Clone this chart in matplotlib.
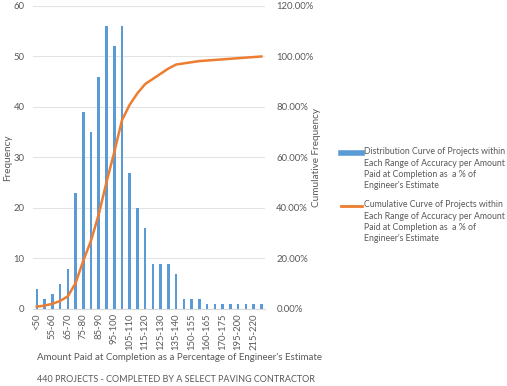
import matplotlib.pyplot as plt
from matplotlib.ticker import FuncFormatter
from matplotlib.lines import Line2D

plt.rcParams['font.family'] = ['Lato', 'DejaVu Sans']

# rangos de porcentaje (solo se ven uno de cada dos en el eje)
rangos = ['<50', '50-55', '55-60', '60-65', '65-70', '70-75', '75-80', '80-85',
          '85-90', '90-95', '95-100', '100-105', '105-110', '110-115', '115-120',
          '120-125', '125-130', '130-135', '135-140', '140-150', '150-155',
          '155-160', '160-165', '165-170', '170-175', '175-195', '195-200',
          '200-215', '215-220', '>220']

# numero de proyectos por rango
frecuencia = [4, 2, 3, 5, 8, 23, 39, 35, 46, 56, 52, 56, 27, 20, 16, 9, 9, 9, 7,
              2, 2, 2, 1, 1, 1, 1, 1, 1, 1, 1]

# frecuencia acumulada en %
acumulada = [0.91, 1.36, 2.05, 3.18, 5.00, 10.23, 19.09, 27.05, 37.50, 50.23,
             62.05, 74.77, 80.91, 85.45, 89.09, 91.14, 93.18, 95.23, 96.82,
             97.27, 97.73, 98.18, 98.41, 98.64, 98.86, 99.09, 99.32, 99.55,
             99.77, 100.0]

gris = '#595959'
azul = '#5B9BD5'
naranja = '#ED7D31'

fig = plt.figure(figsize=(5.07, 3.86), dpi=100)
ax = fig.add_axes([0.065, 0.1995, 0.458, 0.785])
ax2 = ax.twinx()

x = list(range(len(rangos)))
ax.bar(x, frecuencia, width=0.33, color=azul, zorder=3)
ax2.plot(x, acumulada, color=naranja, lw=1.8, zorder=4)

ax.set_xlim(-0.5, len(rangos) - 0.5)
ax.set_ylim(0, 60)
ax.set_yticks(range(0, 61, 10))
ax2.set_ylim(0, 120)
ax2.set_yticks(range(0, 121, 20))
ax2.yaxis.set_major_formatter(FuncFormatter(lambda v, p: '%.2f%%' % v))

ax.set_xticks(x[::2])
ax.set_xticklabels(rangos[::2], rotation=90)
ax.grid(axis='y', color='#E3E3E3', lw=0.8, zorder=0)
ax.set_axisbelow(True)

for a in (ax, ax2):
    for s in a.spines.values():
        s.set_visible(False)
    a.tick_params(colors=gris, labelsize=6.8, length=0)
ax.spines['bottom'].set_visible(True)
ax.spines['bottom'].set_color('#D9D9D9')
ax.tick_params(axis='y', pad=6)
ax2.tick_params(axis='y', pad=8)
ax.tick_params(axis='x', pad=3)

ax.set_ylabel('Frequency', color=gris, fontsize=7.2)
ax.yaxis.set_label_coords(-0.09, 0.5)
ax2.set_ylabel('Cumulative Frequency', color=gris, fontsize=7.2)
ax2.yaxis.set_label_coords(1.20, 0.5)

fig.text(0.073, 0.075, "Amount Paid at Completion as a Percentage of Engineer's Estimate",
         color=gris, fontsize=7.0, va='center')
fig.text(0.073, 0.016, '440 PROJECTS - COMPLETED BY A SELECT PAVING CONTRACTOR',
         color=gris, fontsize=6.5, va='center')

# leyenda a mano: el simbolo va alineado con la primera linea del texto
texto = ("Each Range of Accuracy per Amount\nPaid at Completion as  a % of\n"
         "Engineer's Estimate")
entradas = [(azul, 4, 'Distribution Curve of Projects within\n' + texto, 0.6036),
            (naranja, 2, 'Cumulative Curve of Projects within\n' + texto, 0.4663)]
for color, grosor, etiqueta, yy in entradas:
    fig.add_artist(Line2D([0.6726, 0.714], [yy, yy], color=color, lw=grosor,
                          transform=fig.transFigure))
    fig.text(0.718, yy + 0.0145, etiqueta, color=gris, fontsize=6.35, va='top',
             linespacing=1.3, transform=fig.transFigure)

fig.savefig('out.png', dpi=100)
